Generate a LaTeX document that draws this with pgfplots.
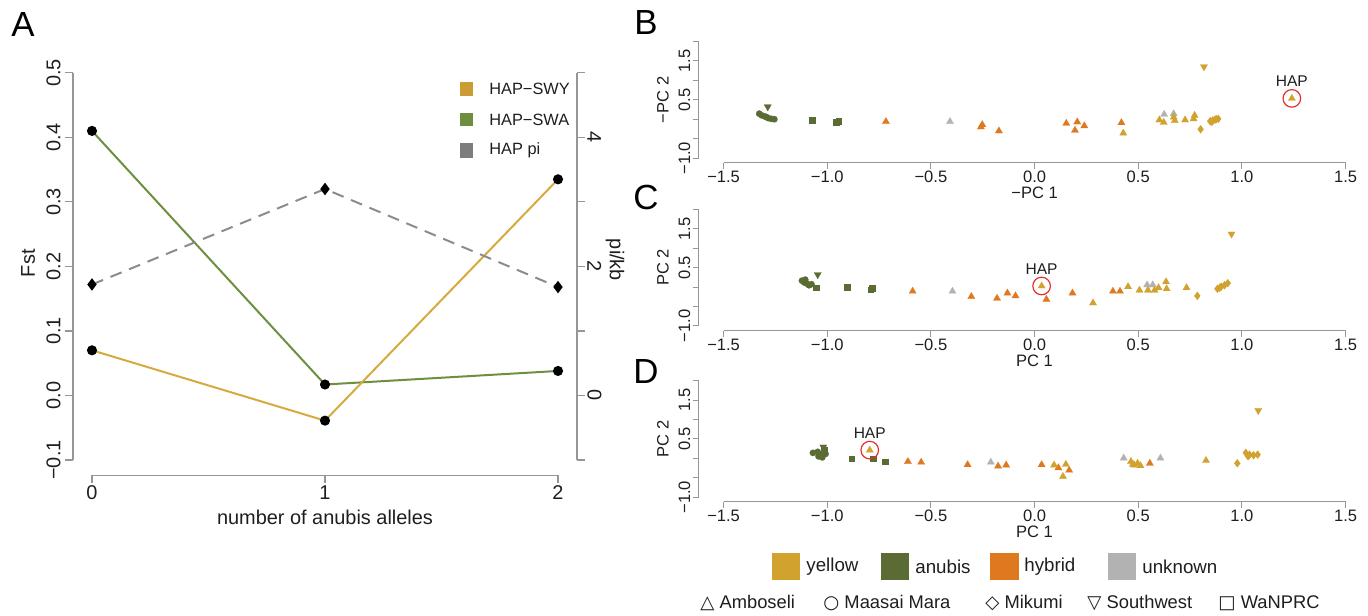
\documentclass[border=0pt]{standalone}
\usepackage{pgfplots}
\pgfplotsset{compat=1.18}
\usepackage{fontspec}
\setmainfont{Liberation Sans}
\newfontfamily\symfont{DejaVu Sans}
\definecolor{ycol}{RGB}{209,163,46}
\definecolor{acol}{RGB}{90,108,52}
\definecolor{hcol}{RGB}{222,121,32}
\definecolor{ucol}{RGB}{178,178,178}
\definecolor{swy}{RGB}{214,170,62}
\definecolor{swa}{RGB}{110,143,64}
\definecolor{pig}{RGB}{140,140,140}
\definecolor{axg}{RGB}{150,150,150}
\definecolor{txt}{RGB}{30,30,30}
\definecolor{hapred}{RGB}{228,45,45}
\definecolor{lswy}{RGB}{201,156,52}
\definecolor{lswa}{RGB}{108,142,62}
\definecolor{lpi}{RGB}{125,125,125}
\pgfplotsset{
 pcaxis/.style={anchor=south west, scale only axis, width=328.6bp, height=63bp,
   xmin=-1.62, xmax=1.55, ymin=-1.12, ymax=2.12,
   axis x line*=bottom, axis y line*=left, axis line style={draw=none},
   tick align=outside, major tick length=3bp, tick style={axg, line width=0.5bp},
   xtick={-1.5,-1,-0.5,0,0.5,1,1.5}, xticklabels={−1.5,−1.0,−0.5,0.0,0.5,1.0,1.5},
   ytick={-1,-0.5,0,0.5,1,1.5,2}, yticklabels={−1.0,,,0.5,,1.5,},
   yticklabel style={rotate=90, anchor=south},
   ticklabel style={font=\fontsize{8.3}{10}\selectfont, text=txt, inner sep=1bp},
   clip=false},
 tri/.style={only marks, mark=triangle*, mark size=2.1bp, mark options={draw=#1, fill=#1, line width=0.1bp}},
 dtri/.style={only marks, mark=triangle*, mark size=2.1bp, mark options={rotate=180, draw=#1, fill=#1, line width=0.1bp}},
 circ/.style={only marks, mark=*, mark size=1.6bp, mark options={draw=#1, fill=#1, line width=0.1bp}},
 sq/.style={only marks, mark=square*, mark size=1.4bp, mark options={draw=#1, fill=#1, line width=0.1bp}},
 dia/.style={only marks, mark=diamond*, mark size=2bp, mark options={draw=#1, fill=#1, line width=0.1bp}},
 hap/.style={only marks, mark=o, mark size=4.4bp, mark options={draw=hapred, line width=0.6bp}},
}
\newcommand{\pcaxes}{%
  \draw[axg, line width=0.5bp] (axis cs:-1.5,-1.12) -- (axis cs:1.5,-1.12);
  \draw[axg, line width=0.5bp] (axis cs:-1.62,-1) -- (axis cs:-1.62,2);}
\begin{document}
\begin{tikzpicture}
\path[use as bounding box] (0,0) rectangle (684bp,308bp);

% ---------------- Panel A ----------------
\begin{axis}[at={(36.5bp,70.25bp)}, anchor=south west, scale only axis,
  width=252bp, height=208.75bp,
  xmin=-0.0815, xmax=2.0815, ymin=-0.124, ymax=0.523,
  axis x line*=bottom, axis y line*=left, axis line style={draw=none},
  tick align=outside, major tick length=4bp, tick style={axg, line width=0.6bp},
  xtick={0,1,2}, xticklabels={0,1,2},
  ytick={-0.1,0,0.1,0.2,0.3,0.4,0.5}, yticklabels={−0.1,0.0,0.1,0.2,0.3,0.4,0.5},
  yticklabel style={rotate=90, anchor=south, yshift=1bp},
  ticklabel style={font=\fontsize{10}{12}\selectfont, text=txt, inner sep=1bp},
  clip=false]
\draw[axg, line width=0.6bp] (axis cs:0,-0.124) -- (axis cs:2,-0.124);
\draw[axg, line width=0.6bp] (axis cs:-0.0815,-0.1) -- (axis cs:-0.0815,0.5);
\addplot[swa, line width=1bp, mark=*, mark size=2bp, mark options={draw=black, fill=black}]
  coordinates {(0,0.410) (1,0.017) (2,0.038)};
\addplot[swy, line width=1bp, mark=*, mark size=2bp, mark options={draw=black, fill=black}]
  coordinates {(0,0.070) (1,-0.039) (2,0.335)};
\node[xshift=-22.5bp, font=\fontsize{10}{12}\selectfont, txt, rotate=90] at (axis cs:-0.0815,0.205) {Fst};
\node[yshift=-20.75bp, font=\fontsize{10}{12}\selectfont, txt] at (axis cs:1,-0.124) {number of anubis alleles};
\end{axis}
\begin{axis}[at={(36.5bp,70.25bp)}, anchor=south west, scale only axis,
  width=252bp, height=208.75bp,
  xmin=-0.0815, xmax=2.0815, ymin=-1.24, ymax=5.23,
  axis x line=none, axis y line*=right, axis line style={draw=none},
  tick align=outside, major tick length=4bp, tick style={axg, line width=0.6bp},
  ytick={-1,0,1,2,3,4,5}, yticklabels={,0,,2,,4,},
  yticklabel style={rotate=-90, anchor=south},
  ticklabel style={font=\fontsize{10}{12}\selectfont, text=txt, inner sep=1bp},
  clip=false]
\draw[axg, line width=0.6bp] (axis cs:2.0815,-1) -- (axis cs:2.0815,5);
\addplot[pig, line width=1bp, dash pattern=on 6bp off 4bp, mark=diamond*, mark size=2.3bp,
  mark options={solid, draw=black, fill=black}]
  coordinates {(0,1.72) (1,3.20) (2,1.68)};
\node[xshift=19bp, font=\fontsize{10}{12}\selectfont, txt, rotate=-90] at (axis cs:2.0815,2.1) {pi/kb};
\end{axis}
% legend A
\fill[lswy] (230bp,260bp) rectangle (236.5bp,267bp);
\fill[lswa] (230bp,245bp) rectangle (236.5bp,251.5bp);
\fill[lpi]  (230bp,229bp) rectangle (236.5bp,236.5bp);
\node[anchor=west, font=\fontsize{8.2}{10}\selectfont, txt, inner sep=0] at (244.5bp,263.5bp) {HAP−SWY};
\node[anchor=west, font=\fontsize{8.2}{10}\selectfont, txt, inner sep=0] at (244.5bp,248bp) {HAP−SWA};
\node[anchor=west, font=\fontsize{8.2}{10}\selectfont, txt, inner sep=0] at (244.5bp,233bp) {HAP pi};
\node[font=\fontsize{17.5}{20}\selectfont, black] at (11.5bp,295.5bp) {A};

% ---------------- Panel B ----------------
\begin{axis}[pcaxis, at={(349.35bp,226.6bp)}]
\pcaxes
\addplot[circ=acol] coordinates {(-1.328,0.143) (-1.316,0.10) (-1.300,0.07) (-1.293,0.054) (-1.285,0.03) (-1.270,0.01) (-1.255,0.0)};
\addplot[sq=acol] coordinates {(-1.072,-0.027) (-0.957,-0.07) (-0.945,-0.05)};
\addplot[dtri=acol] coordinates {(-1.287,0.32)};
\addplot[tri=hcol] coordinates {(-0.717,-0.06) (-0.259,-0.20) (-0.252,-0.14) (-0.172,-0.30) (0.153,-0.107) (0.195,-0.286) (0.206,-0.07) (0.240,-0.17) (0.419,-0.089)};
\addplot[tri=ucol] coordinates {(-0.408,-0.06) (0.625,0.125) (0.671,0.143)};
\addplot[tri=ycol] coordinates {(0.428,-0.357) (0.602,-0.018) (0.623,-0.08) (0.671,0.054) (0.676,-0.036) (0.726,-0.018) (0.767,0.009) (0.772,0.098) (1.241,0.536)};
\addplot[dia=ycol] coordinates {(0.801,-0.259) (0.847,-0.05) (0.855,-0.07) (0.860,-0.03) (0.870,-0.01) (0.876,0.0) (0.886,0.01)};
\addplot[dtri=ycol] coordinates {(0.817,1.348)};
\addplot[hap] coordinates {(1.241,0.536)};
\node[yshift=8.4bp, font=\fontsize{7.8}{9}\selectfont, txt] at (axis cs:1.241,0.536) {HAP};
\node[yshift=-15bp, font=\fontsize{8.3}{10}\selectfont, txt] at (axis cs:0,-1.12) {−PC 1};
\node[xshift=-17.85bp, font=\fontsize{8.3}{10}\selectfont, txt, rotate=90] at (axis cs:-1.62,0.5) {−PC 2};
\end{axis}
\node[font=\fontsize{17.5}{20}\selectfont, black] at (323bp,296.5bp) {B};

% ---------------- Panel C ----------------
\begin{axis}[pcaxis, at={(349.35bp,142.7bp)}]
\pcaxes
\addplot[circ=acol] coordinates {(-1.122,0.164) (-1.111,0.118) (-1.106,0.19) (-1.099,0.091) (-1.088,0.045) (-1.076,0.073)};
\addplot[sq=acol] coordinates {(-1.053,-0.018) (-0.904,0.0) (-0.790,-0.064) (-0.783,-0.027)};
\addplot[dtri=acol] coordinates {(-1.046,0.318)};
\addplot[tri=hcol] coordinates {(-0.588,-0.109) (-0.305,-0.245) (-0.181,-0.291) (-0.131,-0.155) (-0.092,-0.227) (0.057,-0.318) (0.183,-0.155) (0.378,-0.109) (0.412,-0.109)};
\addplot[tri=ucol] coordinates {(-0.396,-0.109) (0.543,0.055) (0.570,0.055)};
\addplot[tri=ycol] coordinates {(0.034,0.027) (0.282,-0.409) (0.451,0.009) (0.506,-0.082) (0.547,-0.082) (0.579,-0.082) (0.598,-0.018) (0.634,0.136) (0.637,-0.045) (0.733,-0.018)};
\addplot[dia=ycol] coordinates {(0.785,-0.227) (0.882,-0.045) (0.893,-0.018) (0.900,0.009) (0.916,0.045) (0.932,0.10)};
\addplot[dtri=ycol] coordinates {(0.950,1.364)};
\addplot[hap] coordinates {(0.034,0.027)};
\node[yshift=8.4bp, font=\fontsize{7.8}{9}\selectfont, txt] at (axis cs:0.034,0.027) {HAP};
\node[yshift=-15bp, font=\fontsize{8.3}{10}\selectfont, txt] at (axis cs:0,-1.12) {PC 1};
\node[xshift=-17.85bp, font=\fontsize{8.3}{10}\selectfont, txt, rotate=90] at (axis cs:-1.62,0.5) {PC 2};
\end{axis}
\node[font=\fontsize{17.5}{20}\selectfont, black] at (323bp,209bp) {C};

% ---------------- Panel D ----------------
\begin{axis}[pcaxis, at={(349.35bp,57bp)}]
\pcaxes
\addplot[circ=acol] coordinates {(-1.069,0.143) (-1.046,0.17) (-1.042,0.054) (-1.030,0.098) (-1.024,0.027) (-1.008,0.116)};
\addplot[sq=acol] coordinates {(-1.014,0.232) (-0.882,-0.009) (-0.779,-0.009) (-0.721,-0.08)};
\addplot[dtri=acol] coordinates {(-1.019,0.295)};
\addplot[tri=hcol] coordinates {(-0.611,-0.08) (-0.547,-0.098) (-0.323,-0.161) (-0.176,-0.196) (-0.137,-0.17) (0.034,-0.161) (0.115,-0.241) (0.167,-0.304) (0.556,-0.125)};
\addplot[tri=ucol] coordinates {(-0.211,-0.098) (0.430,0.009) (0.607,0.009)};
\addplot[tri=ycol] coordinates {(-0.795,0.214) (0.094,-0.17) (0.151,-0.152) (0.137,-0.464) (0.465,-0.08) (0.474,-0.152) (0.481,-0.17) (0.497,-0.125) (0.511,-0.188) (0.827,-0.054)};
\addplot[dia=ycol] coordinates {(0.978,-0.125) (1.019,0.143) (1.030,0.054) (1.037,0.098) (1.056,0.08) (1.076,0.098)};
\addplot[dtri=ycol] coordinates {(1.079,1.232)};
\addplot[hap] coordinates {(-0.795,0.214)};
\node[yshift=8.4bp, font=\fontsize{7.8}{9}\selectfont, txt] at (axis cs:-0.795,0.214) {HAP};
\node[yshift=-15bp, font=\fontsize{8.3}{10}\selectfont, txt] at (axis cs:0,-1.12) {PC 1};
\node[xshift=-17.85bp, font=\fontsize{8.3}{10}\selectfont, txt, rotate=90] at (axis cs:-1.62,0.5) {PC 2};
\end{axis}
\node[font=\fontsize{17.5}{20}\selectfont, black] at (323bp,122bp) {D};

% ---------------- bottom legend ----------------
\fill[ycol] (386bp,18bp) rectangle (400bp,31.5bp);
\fill[acol] (440.5bp,18bp) rectangle (454.5bp,31.5bp);
\fill[hcol] (495bp,18bp) rectangle (509.5bp,31.5bp);
\fill[ucol] (554bp,18bp) rectangle (568bp,31.5bp);
\node[anchor=west, font=\fontsize{9.4}{11}\selectfont, txt, inner sep=0] at (403bp,24.75bp) {yellow};
\node[anchor=west, font=\fontsize{9.4}{11}\selectfont, txt, inner sep=0] at (457.5bp,24.75bp) {anubis};
\node[anchor=west, font=\fontsize{9.4}{11}\selectfont, txt, inner sep=0] at (512bp,24.75bp) {hybrid};
\node[anchor=west, font=\fontsize{9.4}{11}\selectfont, txt, inner sep=0] at (571bp,24.75bp) {unknown};
\node[anchor=west, font=\fontsize{9.2}{11}\selectfont, txt, inner sep=0] at (350bp,6.5bp) {{\symfont △} Amboseli};
\node[anchor=west, font=\fontsize{9.2}{11}\selectfont, txt, inner sep=0] at (411.5bp,6.5bp) {{\symfont ○} Maasai Mara};
\node[anchor=west, font=\fontsize{9.2}{11}\selectfont, txt, inner sep=0] at (492.5bp,6.5bp) {{\symfont ◇} Mikumi};
\node[anchor=west, font=\fontsize{9.2}{11}\selectfont, txt, inner sep=0] at (543.5bp,6.5bp) {{\symfont ▽} Southwest};
\node[anchor=west, font=\fontsize{9.2}{11}\selectfont, txt, inner sep=0] at (609bp,6.5bp) {{\symfont □} WaNPRC};
\end{tikzpicture}
\end{document}
